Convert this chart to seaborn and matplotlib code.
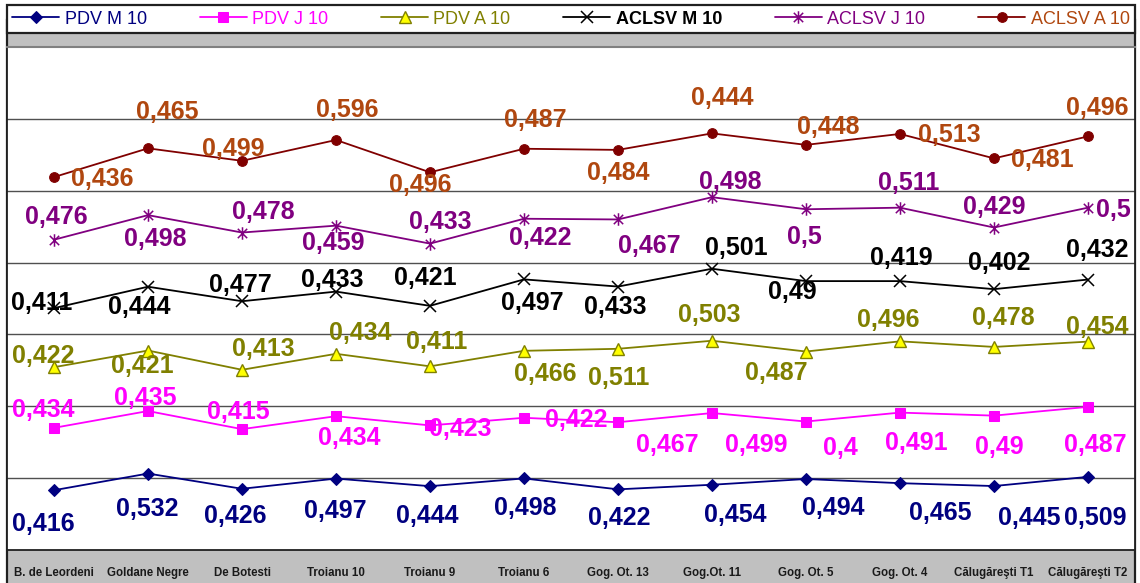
import numpy as np
import pandas as pd
import matplotlib
matplotlib.use("Agg")
import matplotlib.pyplot as plt
import seaborn as sns
from matplotlib.path import Path
from matplotlib.patches import Rectangle
from matplotlib import font_manager

# ---- data -------------------------------------------------------------
categories = ["B. de Leordeni", "Goldane Negre", "De Botesti", "Troianu 10",
              "Troianu 9", "Troianu 6", "Gog. Ot. 13", "Gog.Ot. 11",
              "Gog. Ot. 5", "Gog. Ot. 4", "Călugăreşti T1", "Călugăreşti T2"]
series_names = ["PDV M 10", "PDV J 10", "PDV A 10", "ACLSV M 10", "ACLSV J 10", "ACLSV A 10"]

pdv_m10 = [0.416, 0.532, 0.426, 0.497, 0.444, 0.498, 0.422, 0.454, 0.494, 0.465, 0.445, 0.509]
pdv_j10 = [0.434, 0.435, 0.415, 0.434, 0.423, 0.422, 0.467, 0.499, 0.4, 0.491, 0.49, 0.487]
pdv_a10 = [0.422, 0.421, 0.413, 0.434, 0.411, 0.466, 0.511, 0.503, 0.487, 0.496, 0.478, 0.454]
aclsv_m10 = [0.411, 0.444, 0.477, 0.433, 0.421, 0.497, 0.433, 0.501, 0.49, 0.419, 0.402, 0.432]
aclsv_j10 = [0.476, 0.498, 0.478, 0.459, 0.433, 0.422, 0.467, 0.498, 0.5, 0.511, 0.429, 0.5]
aclsv_a10 = [0.436, 0.465, 0.499, 0.596, 0.496, 0.487, 0.484, 0.444, 0.448, 0.513, 0.481, 0.496]

# ---- styling ----------------------------------------------------------
line_colors = ["#000080", "#FF00FF", "#808000", "#000000", "#800080", "#800000"]
text_colors = ["#000080", "#FF00FF", "#808000", "#000000", "#800080", "#B0470F"]

star = Path([(0, -1), (0, 1), (-0.75, -0.75), (0.75, 0.75), (-0.75, 0.75), (0.75, -0.75)],
            [Path.MOVETO, Path.LINETO, Path.MOVETO, Path.LINETO, Path.MOVETO, Path.LINETO])
marker_styles = [
    dict(marker="D", markersize=6.5, markerfacecolor="#000080", markeredgecolor="#000080"),
    dict(marker="s", markersize=7, markerfacecolor="#FF00FF", markeredgecolor="#FF00FF"),
    dict(marker="^", markersize=8, markerfacecolor="#FFFF00", markeredgecolor="#808000", markeredgewidth=1),
    dict(marker="x", markersize=8, markeredgecolor="#000000", markeredgewidth=1.1),
    dict(marker=star, markersize=9, markeredgecolor="#800080", markeredgewidth=1.1),
    dict(marker="o", markersize=7, markerfacecolor="#800000", markeredgecolor="#800000"),
]

# label offsets from the marker in pixels (dx right, dy down)
label_offsets = [
    [(-11, 34), (-1, 35), (-7, 27), (-1, 32), (-3, 30), (1, 30), (1, 29), (23, 30), (27, 29), (40, 30), (35, 32), (7, 41)],
    [(-11, -18), (-3, -13), (-4, -17), (13, 22), (30, 4), (52, 2), (49, 23), (44, 32), (34, 26), (16, 30), (5, 31), (7, 38)],
    [(-11, -11), (-6, 15), (21, -21), (24, -21), (7, -24), (21, 23), (1, 29), (-3, -26), (-30, 21), (-12, -21), (9, -29), (9, -15)],
    [(-12, -5), (-9, 20), (-2, -16), (-4, -12), (-5, -28), (8, 24), (-3, 20), (24, -21), (-14, 11), (1, -23), (5, -26), (9, -30)],
    [(2, -23), (7, 24), (21, -21), (-3, 17), (10, -22), (16, 19), (31, 27), (18, -15), (-2, 28), (9, -25), (0, -21), (25, 2)],
    [(48, 2), (19, -36), (-9, -12), (11, -30), (-10, 13), (11, -29), (0, 23), (10, -35), (22, -18), (49, 1), (48, 2), (9, -28)],
]

sns.set_style("white")
names = {f.name for f in font_manager.fontManager.ttflist}
narrow = "Liberation Sans Narrow" if "Liberation Sans Narrow" in names else "Liberation Sans"
plt.rcParams["font.family"] = ["Liberation Sans", "DejaVu Sans"]

# stacked values
df = pd.DataFrame({"PDV M 10": pdv_m10, "PDV J 10": pdv_j10, "PDV A 10": pdv_a10,
                   "ACLSV M 10": aclsv_m10, "ACLSV J 10": aclsv_j10, "ACLSV A 10": aclsv_a10})
cum = df.cumsum(axis=1)
x = np.arange(len(categories))

W, H = 1140, 583
fig = plt.figure(figsize=(W / 100, H / 100), dpi=100, facecolor="white")

# gray chart area + frame (top edge provided by legend box)
bg = Rectangle((7 / W, -0.01), 1128 / W, (H - 20) / H + 0.01, transform=fig.transFigure,
               facecolor="#C0C0C0", edgecolor="#202020", lw=1.6, zorder=-5)
fig.patches.append(bg)

ax = fig.add_axes([7 / W, 33 / H, 1128 / W, 503 / H])
ax.set_zorder(2)
ax.set_facecolor("white")

for k, name in enumerate(series_names):
    sns.lineplot(x=x, y=cum[name].values, ax=ax, color=line_colors[k], linewidth=1.3,
                 label=name, legend=False, zorder=3, **marker_styles[k])
    for i in range(len(categories)):
        v = df[name].iloc[i]
        dx, dy = label_offsets[k][i]
        ax.annotate(f"{v:g}".replace(".", ","), (x[i], cum[name].iloc[i]), xytext=(dx, -dy),
                    textcoords="offset pixels", ha="center", va="center", fontsize=18,
                    fontweight="bold", color=text_colors[k], zorder=4, annotation_clip=False)

ax.set_xlim(-0.5, len(categories) - 0.5)
ax.set_ylim(0, 3.5)
ax.set_yticks(np.arange(0.5, 3.5, 0.5))
ax.yaxis.grid(True, color="#505050", linewidth=1)
ax.tick_params(axis="y", left=False, labelleft=False)
ax.set_xticks(x)
ax.set_xticklabels(categories, fontsize=8.3, fontweight="bold", color="#1a1a1a", family=narrow)
ax.set_xticks(x[:-1] + 0.5, minor=True)
ax.tick_params(axis="x", which="major", length=0, pad=12)
ax.tick_params(axis="x", which="minor", length=5, direction="out", color="#202020", width=1)
ax.set_xlabel("")
ax.set_ylabel("")
for side in ["left", "bottom", "right"]:
    ax.spines[side].set_color("#202020")
    ax.spines[side].set_linewidth(1.3)
ax.spines["top"].set_color("#808080")
ax.spines["top"].set_linewidth(1.5)

handles, labels = ax.get_legend_handles_labels()
leg = fig.legend(handles, labels, loc="lower left", ncol=6, mode="expand",
                 bbox_to_anchor=(7 / W, (H - 33) / H, 1128 / W, 26 / H), borderaxespad=0,
                 frameon=True, fancybox=False, edgecolor="#202020", facecolor="white",
                 framealpha=1, handlelength=2.6, handletextpad=0.3, borderpad=0.3,
                 labelcolor=text_colors, prop={"family": narrow, "size": 13})
leg.get_frame().set_linewidth(1.6)
leg.get_texts()[3].set_fontweight("bold")

fig.savefig("out.png", dpi=100, facecolor="white")
